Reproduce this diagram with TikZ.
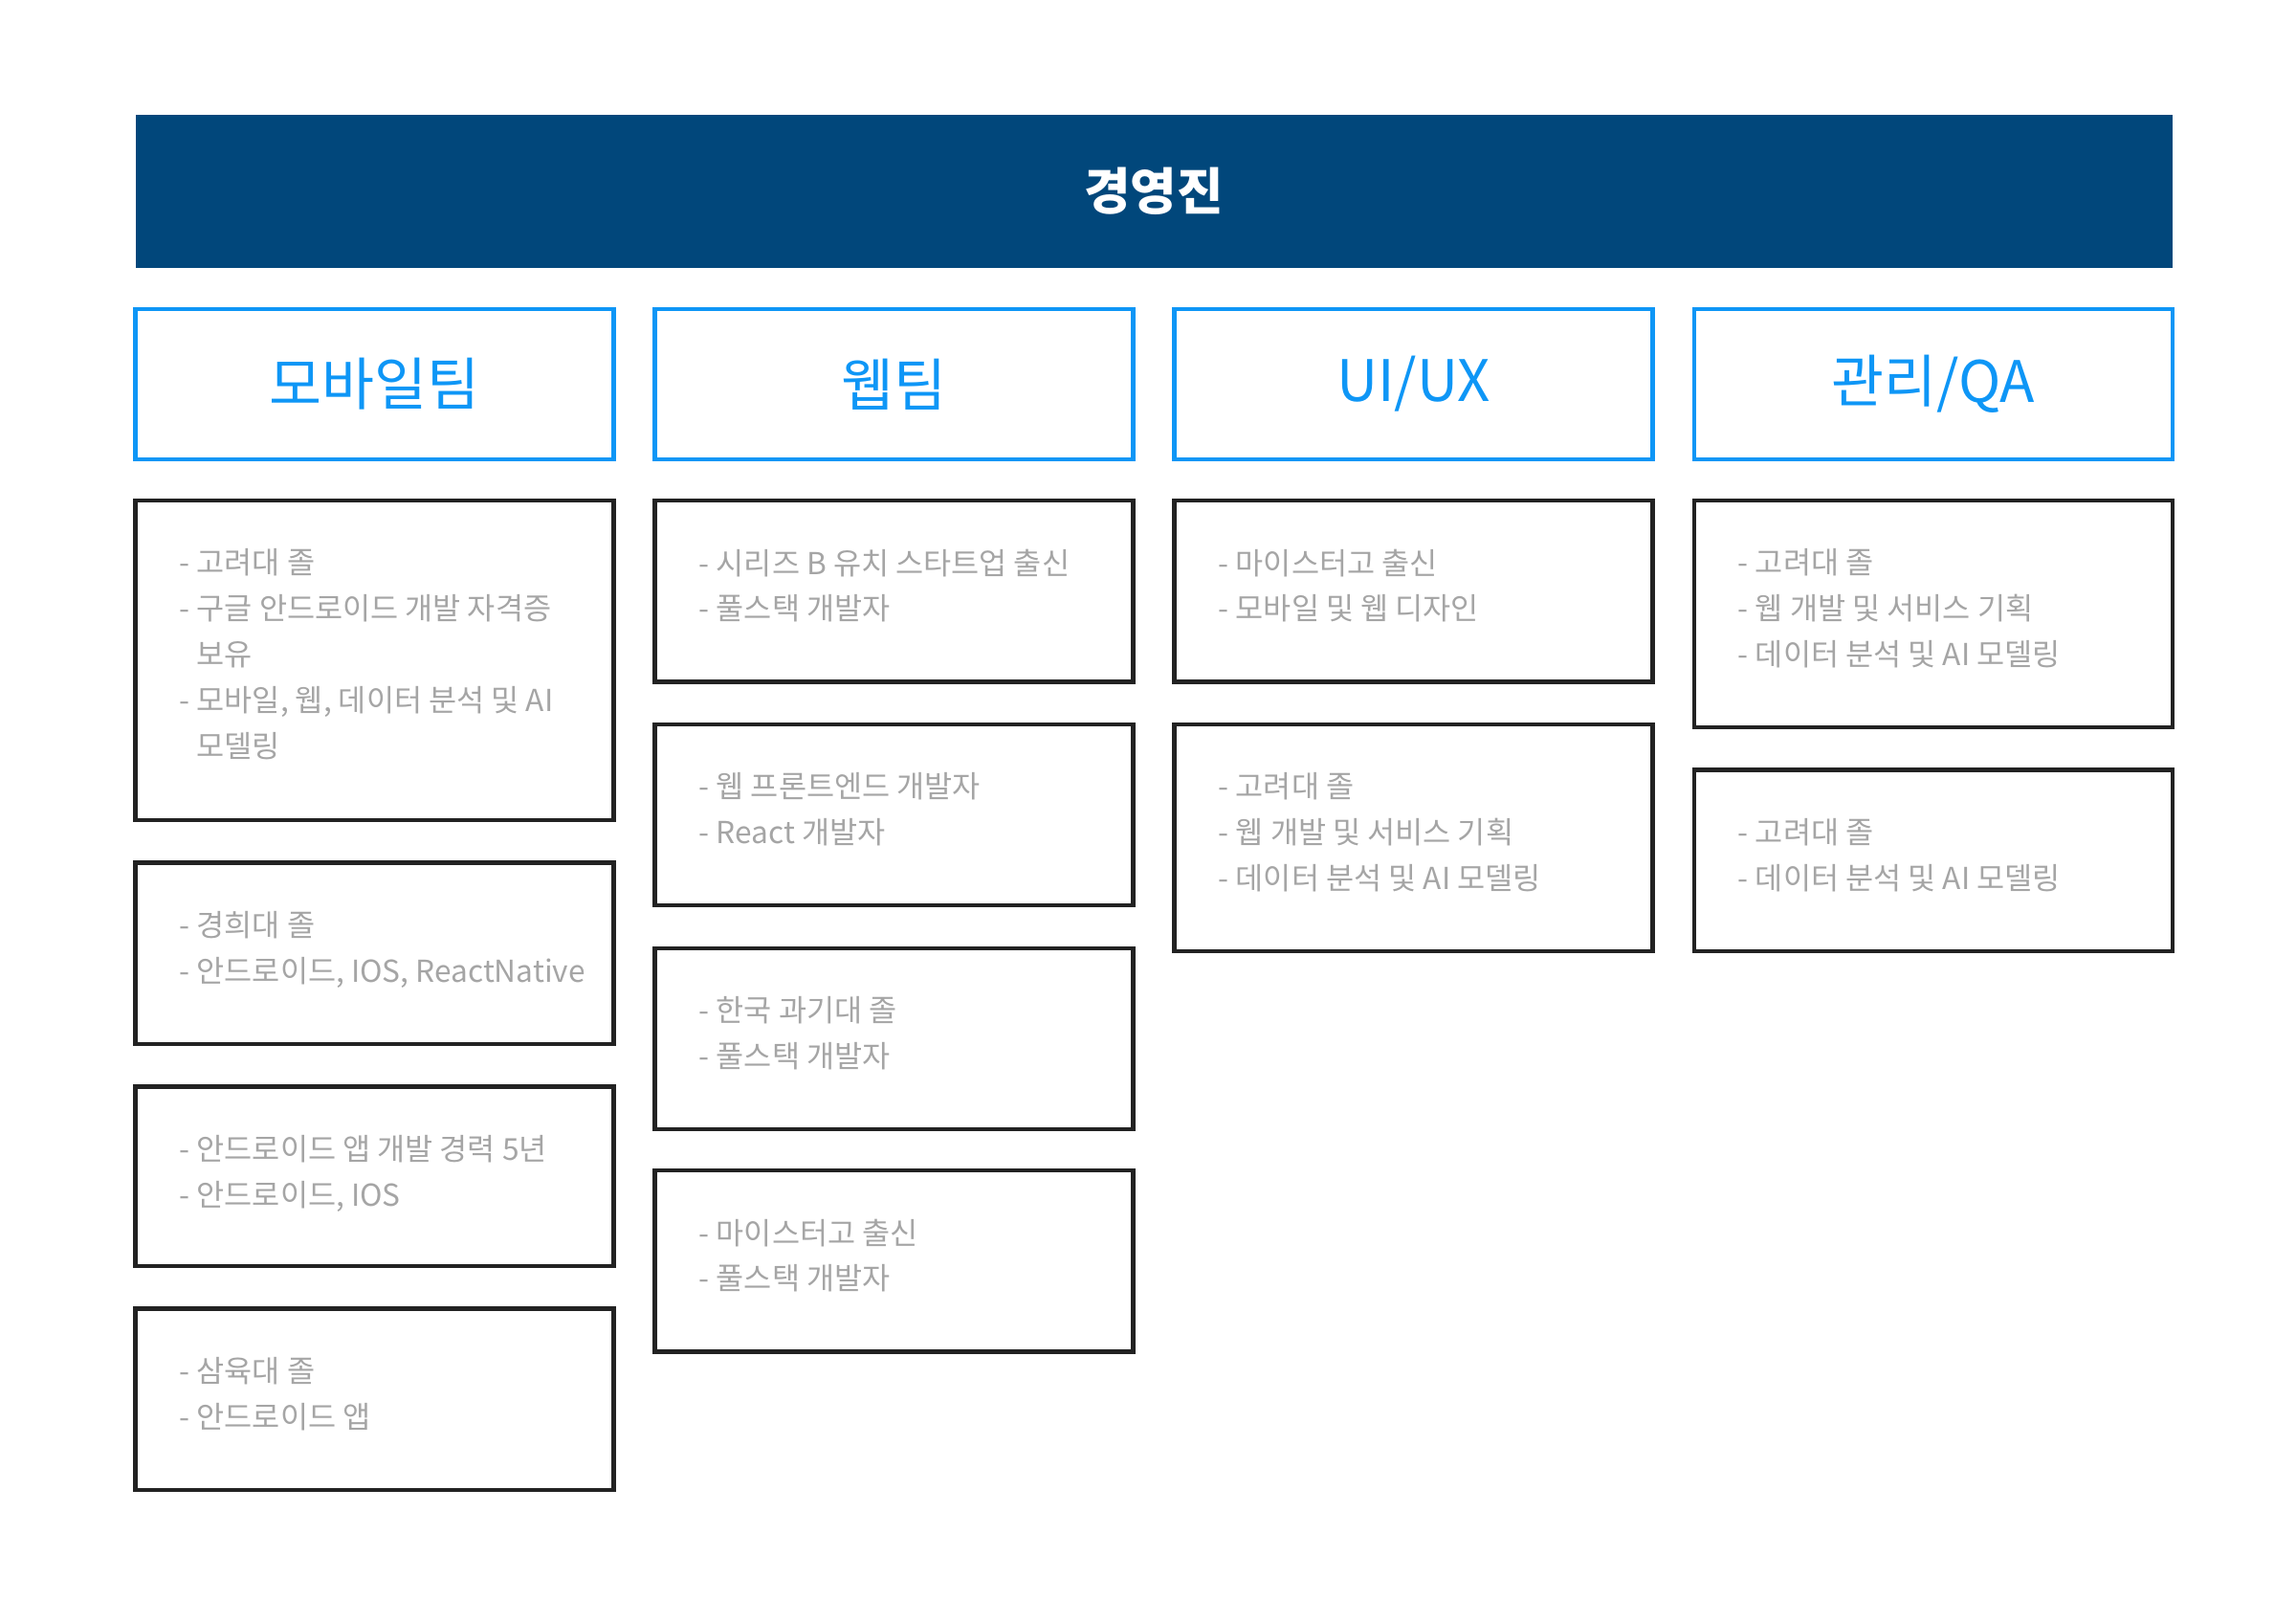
\documentclass[tikz,border=0pt]{standalone}
\usepackage{fontspec}
\setmainfont{Noto Sans CJK KR}
\usetikzlibrary{positioning,fit}
\definecolor{boardblue}{RGB}{1,71,123}
\definecolor{teamblue}{RGB}{14,150,246}
\definecolor{cardline}{RGB}{34,34,34}
\definecolor{cardtext}{RGB}{165,165,165}

\begin{document}
\begin{tikzpicture}[
    x=0.015385cm, y=-0.015385cm,
    board/.style={fill=boardblue, draw=none, inner sep=0pt},
    team/.style={draw=teamblue, line width=1.3pt, inner sep=0pt, text=teamblue, font=\fontsize{17}{20}\selectfont},
    card/.style={draw=cardline, line width=1.3pt, inner sep=0pt},
    info/.style={anchor=north west, inner sep=0pt, align=left, text=cardtext, font=\fontsize{9}{13.6}\selectfont}
]
\useasboundingbox (0,0) rectangle (1560,1087);

% ========== BOARD ==========
\node[board, fit={(92,78)(1476,182)}] (board) {};
\node[text=white, font=\fontsize{15}{18}\selectfont\bfseries] (boardlbl) at (board.center) {경영진};

% ========== TEAMS ==========
\node[team, fit={(92,210)(417,312)}] (mobile) {};
\node[team, fit={(445,210)(770,312)}] (web) {};
\node[team, fit={(798,210)(1123,312)}] (uiux) {};
\node[team, fit={(1151,210)(1476,312)}] (qa) {};
\node[text=teamblue, font=\fontsize{17}{20}\selectfont] at (mobile.center) {모바일팀};
\node[text=teamblue, font=\fontsize{17}{20}\selectfont] at (web.center) {웹팀};
\node[text=teamblue, font=\fontsize{17}{20}\selectfont] at (uiux.center) {UI/UX};
\node[text=teamblue, font=\fontsize{17}{20}\selectfont] at (qa.center) {관리/QA};

% ========== MOBILE MEMBERS ==========
\node[card, fit={(92,340)(417,557)}] (m1) {};
\node[card, fit={(92,586)(417,709)}] (m2) {};
\node[card, fit={(92,738)(417,860)}] (m3) {};
\node[card, fit={(92,889)(417,1012)}] (m4) {};
\node[info] at ([shift={(31,34)}]m1.north west) {- 고려대 졸\\- 구글 안드로이드 개발 자격증\\\phantom{- }보유\\- 모바일, 웹, 데이터 분석 및 AI\\\phantom{- }모델링};
\node[info] at ([shift={(31,34)}]m2.north west) {- 경희대 졸\\- 안드로이드, IOS, ReactNative};
\node[info] at ([shift={(31,34)}]m3.north west) {- 안드로이드 앱 개발 경력 5년\\- 안드로이드, IOS};
\node[info] at ([shift={(31,34)}]m4.north west) {- 삼육대 졸\\- 안드로이드 앱};

% ========== WEB MEMBERS ==========
\node[card, fit={(445,340)(770,463)}] (w1) {};
\node[card, fit={(445,492)(770,615)}] (w2) {};
\node[card, fit={(445,644)(770,767)}] (w3) {};
\node[card, fit={(445,795)(770,918)}] (w4) {};
\node[info] at ([shift={(31,34)}]w1.north west) {- 시리즈 B 유치 스타트업 출신\\- 풀스택 개발자};
\node[info] at ([shift={(31,34)}]w2.north west) {- 웹 프론트엔드 개발자\\- React 개발자};
\node[info] at ([shift={(31,34)}]w3.north west) {- 한국 과기대 졸\\- 풀스택 개발자};
\node[info] at ([shift={(31,34)}]w4.north west) {- 마이스터고 출신\\- 풀스택 개발자};

% ========== UI/UX MEMBERS ==========
\node[card, fit={(798,340)(1123,463)}] (u1) {};
\node[card, fit={(798,492)(1123,646)}] (u2) {};
\node[info] at ([shift={(31,34)}]u1.north west) {- 마이스터고 출신\\- 모바일 및 웹 디자인};
\node[info] at ([shift={(31,34)}]u2.north west) {- 고려대 졸\\- 웹 개발 및 서비스 기획\\- 데이터 분석 및 AI 모델링};

% ========== QA MEMBERS ==========
\node[card, fit={(1151,340)(1476,494)}] (q1) {};
\node[card, fit={(1151,523)(1476,646)}] (q2) {};
\node[info] at ([shift={(31,34)}]q1.north west) {- 고려대 졸\\- 웹 개발 및 서비스 기획\\- 데이터 분석 및 AI 모델링};
\node[info] at ([shift={(31,34)}]q2.north west) {- 고려대 졸\\- 데이터 분석 및 AI 모델링};

\end{tikzpicture}
\end{document}
